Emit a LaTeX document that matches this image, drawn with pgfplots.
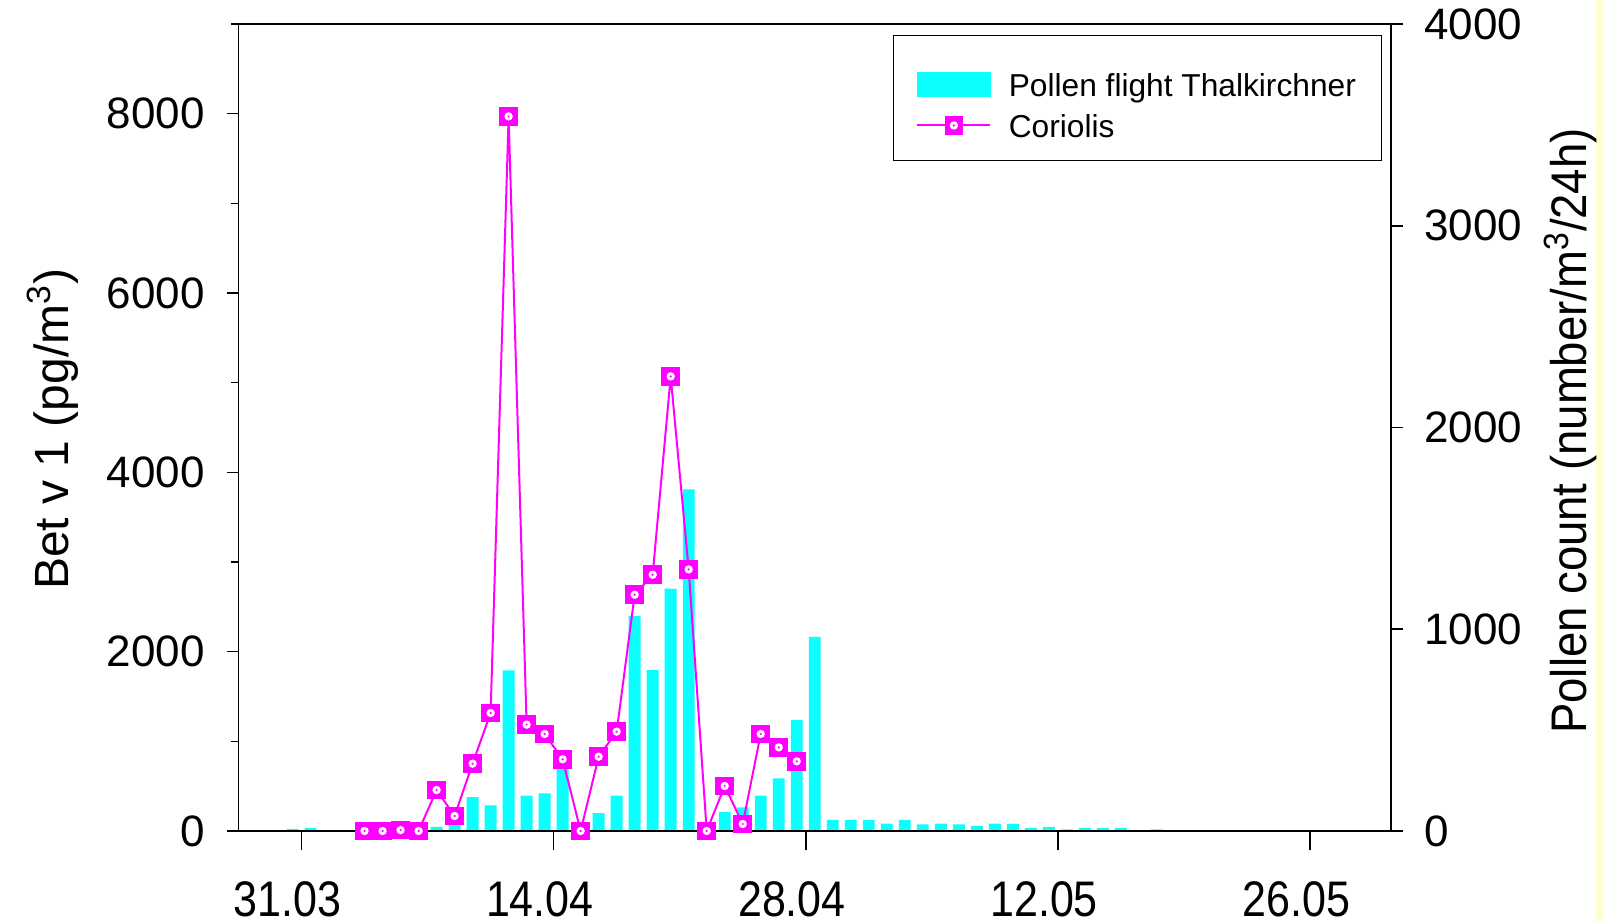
\documentclass[border=0pt]{standalone}
\usepackage{fontspec}
\setmainfont{Liberation Sans}
\newfontfamily\condfont[FakeStretch=0.86]{Liberation Sans}
\newfontfamily\condfontb[FakeStretch=0.91]{Liberation Sans}
\usepackage{pgfplots}
\pgfplotsset{compat=1.18}
\definecolor{barcyan}{RGB}{12,255,255}
\definecolor{mag}{RGB}{255,0,255}
\definecolor{stripy}{RGB}{255,255,208}
\pgfdeclareplotmark{corio}{%
  \pgfpathrectangle{\pgfpoint{-\pgfplotmarksize}{-\pgfplotmarksize}}{\pgfpoint{2\pgfplotmarksize}{2\pgfplotmarksize}}%
  \pgfsetfillcolor{mag}\pgfusepathqfill
  \pgfpathcircle{\pgfpointorigin}{0.45\pgfplotmarksize}%
  \pgfsetfillcolor{white}\pgfusepathqfill
  \pgfpathcircle{\pgfpointorigin}{0.13\pgfplotmarksize}%
  \pgfsetfillcolor{mag}\pgfusepathqfill
}
\newcommand{\lgstrut}{\rule[-3.5pt]{0pt}{23.9pt}}
\begin{document}
\begin{tikzpicture}
\path[use as bounding box] (0,0) rectangle (801.5pt,461pt);
\fill[stripy] (797.85pt,0) rectangle (801.5pt,461pt);
% ---------- bars, right axis ----------
\begin{axis}[
  at={(119.25pt,45.5pt)}, anchor=south west,
  scale only axis, width=576.25pt, height=403.5pt,
  xmin=-4, xmax=60, ymin=0, ymax=4000,
  axis line style={line width=0.9pt},
  tick style={black, line width=0.8pt},
  tick align=outside,
  xtick=\empty,
  extra x ticks={-0.5,13.5,27.5,41.5,55.5},
  extra x tick labels={31.03,14.04,28.04,12.05,26.05},
  extra x tick style={major tick length=9.25pt},
  minor xtick={-3.5,-2.5,...,59.5},
  minor tick length=3.35pt,
  xtick pos=left,
  ytick={0,1000,2000,3000,4000},
  ytick pos=right, yticklabel pos=right,
  major tick length=6pt,
  /pgf/number format/assume math mode=true,
  /pgf/number format/1000 sep={},
  yticklabel style={font=\fontsize{22pt}{26pt}\selectfont, inner sep=0pt, xshift=10.5pt},
  xticklabel style={font=\condfont\fontsize{25pt}{30pt}\selectfont, inner sep=0pt, text depth=0pt, yshift=-15.75pt, xshift=-6.9pt},
  ylabel={\condfontb\fontsize{25pt}{30pt}\selectfont Pollen count (number/m\textsuperscript{3}/24h)},
  ylabel style={at={(axis description cs:1.170,0.4957)}, anchor=base},
]
\addplot[ybar, bar width=0.66, fill=barcyan, draw=none] coordinates {
(-1,10) (0,15) (7,20) (8,40) (9,168) (10,127) (11,796) (12,175) (13,187) (14,390)
(16,89) (17,175) (18,1065) (19,798) (20,1201) (21,1693) (23,94) (24,117) (25,175)
(26,261) (27,549) (28,962) (29,55) (30,55) (31,55) (32,36) (33,55) (34,33) (35,36)
(36,33) (37,26) (38,36) (39,35) (40,15) (41,20) (42,8) (43,15) (44,15) (45,15)
(47,8) (49,3)
};
\end{axis}
% ---------- Coriolis, left axis ----------
\begin{axis}[
  at={(119.25pt,45.5pt)}, anchor=south west,
  scale only axis, width=576.25pt, height=403.5pt,
  xmin=-4, xmax=60, ymin=0, ymax=9000,
  axis line style={line width=0.9pt},
  tick style={black, line width=0.8pt},
  tick align=outside,
  xtick=\empty,
  ytick={0,2000,4000,6000,8000},
  minor ytick={1000,3000,5000,7000,9000},
  ytick pos=left,
  major tick length=5.85pt, minor tick length=3.65pt,
  /pgf/number format/assume math mode=true,
  /pgf/number format/1000 sep={},
  yticklabel style={font=\fontsize{22pt}{26pt}\selectfont, inner sep=0pt, xshift=-10.9pt},
  ylabel={\fontsize{24pt}{29pt}\selectfont Bet v 1 (pg/m\textsuperscript{3})},
  ylabel style={at={(axis description cs:-0.1475,0.4977)}, anchor=base},
  legend cell align=left,
  legend style={
    at={(0.568,0.9864)}, anchor=north west,
    draw=black, line width=0.6pt,
    font=\fontsize{15.85pt}{19pt}\selectfont,
    inner xsep=11.35pt, inner ysep=10.1pt,
    row sep=-1.6pt,
    nodes={inner sep=0pt},
    /tikz/every odd column/.append style={column sep=8.7pt},
  },
]
\addlegendimage{legend image code/.code={\fill[barcyan] (0pt,-9.6pt) rectangle (36.5pt,2.4pt);}}
\addlegendentry{\lgstrut\makebox[175pt][l]{Pollen flight Thalkirchner}}
\addplot[mag, line width=1pt, mark=corio, mark size=4.65pt,
  legend image code/.code={%
    \draw[mag, line width=1pt] (0pt,-3.6pt) -- (36.5pt,-3.6pt);
    \draw[mag, mark=corio, mark size=4.65pt] plot coordinates {(18.25pt,-3.6pt)};}
] coordinates {
(3,0) (4,0) (5,10) (6,0) (7,457) (8,167) (9,751) (10,1316) (11,7970) (12,1186)
(13,1082) (14,800) (15,0) (16,829) (17,1108) (18,2635) (19,2858) (20,5070)
(21,2917) (22,0) (23,502) (24,78) (25,1082) (26,933) (27,777)
};
\addlegendentry{\lgstrut\makebox[175pt][l]{Coriolis}}
\end{axis}
\end{tikzpicture}
\end{document}
